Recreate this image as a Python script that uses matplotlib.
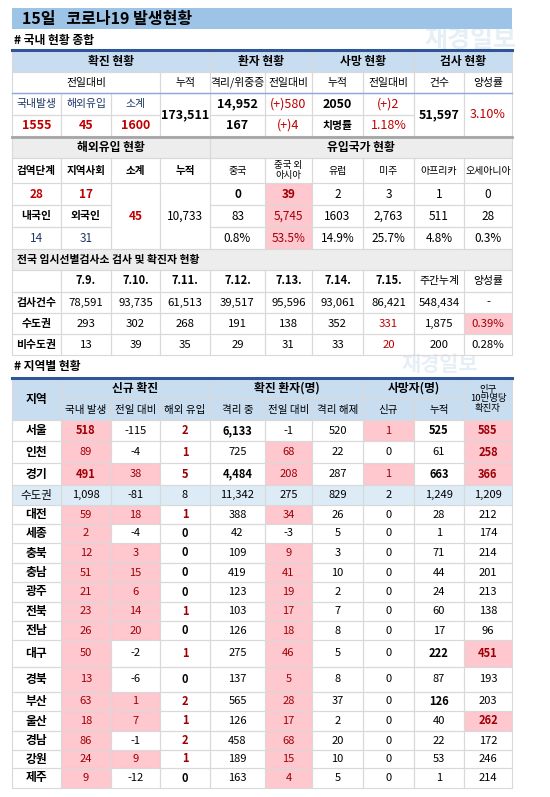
import matplotlib
matplotlib.use("Agg")
import matplotlib.pyplot as plt
from matplotlib.patches import Rectangle

plt.rcParams['font.family'] = ['Noto Sans CJK KR', 'DejaVu Sans']

# ---------------- data ----------------
title = "15일   코로나19 발생현황"
sum_domestic, sum_imported, sum_subtotal, sum_cum = "1555", "45", "1600", "173,511"
iso_crit = ["14,952", "167"]
iso_chg = ["(+)580", "(+)4"]
death_cum, death_chg, fatality = "2050", "(+)2", "1.18%"
tests, pos_rate = "51,597", "3.10%"

imp_quar, imp_comm, imp_sub, imp_cum = "28", "17", "45", "10,733"
imp_kor, imp_for = "14", "31"
origin_names = ["중국", "중국 외\n아시아", "유럽", "미주", "아프리카", "오세아니아"]
origin_today = ["0", "39", "2", "3", "1", "0"]
origin_cum = ["83", "5,745", "1603", "2,763", "511", "28"]
origin_pct = ["0.8%", "53.5%", "14.9%", "25.7%", "4.8%", "0.3%"]

dates = ["7.9.", "7.10.", "7.11.", "7.12.", "7.13.", "7.14.", "7.15.", "주간누계", "양성률"]
test_counts = ["78,591", "93,735", "61,513", "39,517", "95,596", "93,061", "86,421", "548,434", "-"]
metro_pos = ["293", "302", "268", "191", "138", "352", "331", "1,875", "0.39%"]
nonmetro_pos = ["13", "39", "35", "29", "31", "33", "20", "200", "0.28%"]

regions = ["서울", "인천", "경기", "수도권", "대전", "세종", "충북", "충남", "광주", "전북",
           "전남", "대구", "경북", "부산", "울산", "경남", "강원", "제주"]
domestic = [518, 89, 491, 1098, 59, 2, 12, 51, 21, 23, 26, 50, 13, 63, 18, 86, 24, 9]
dom_change = [-115, -4, 38, -81, 18, -4, 3, 15, 6, 14, 20, -2, -6, 1, 7, -1, 9, -12]
imported = [2, 1, 5, 8, 1, 0, 0, 0, 0, 1, 0, 1, 0, 2, 1, 2, 1, 0]
isolated = [6133, 725, 4484, 11342, 388, 42, 109, 419, 123, 103, 126, 275, 137, 565, 126, 458, 189, 163]
iso_change = [-1, 68, 208, 275, 34, -3, 9, 41, 19, 17, 18, 46, 5, 28, 17, 68, 15, 4]
released = [520, 22, 287, 829, 26, 5, 3, 10, 2, 7, 8, 5, 8, 37, 2, 20, 10, 5]
new_death = [1, 0, 1, 2, 0, 0, 0, 0, 0, 0, 0, 0, 0, 0, 0, 0, 0, 0]
cum_death = [525, 61, 663, 1249, 28, 1, 71, 44, 24, 60, 17, 222, 87, 126, 40, 22, 53, 1]
per100k = [585, 258, 366, 1209, 212, 174, 214, 201, 213, 138, 96, 451, 193, 203, 262, 172, 246, 214]

# ---------------- style ----------------
X = [12, 61, 111, 160, 210, 265, 312, 363, 414, 464, 512]
HDR = "#C9DDF1"
GRAY = "#EDEDED"
PINK = "#FFC7CE"
RED = "#C00000"
DRED = "#9C0006"
NAVY = "#1F3864"
GRID = "#D9D9D9"
METRO = "#DDEBF7"
FS = 8.5

fig = plt.figure(figsize=(5.5, 7.97), dpi=100)
ax = fig.add_axes([0, 0, 1, 1])
ax.set_xlim(0, 550)
ax.set_ylim(797, 0)
ax.axis('off')


def cell(c0, c1, y0, y1, text="", bg=None, color="black", bold=False, fs=FS, edge=True):
    x0, x1 = X[c0], X[c1]
    if bg:
        ax.add_patch(Rectangle((x0, y0), x1 - x0, y1 - y0, facecolor=bg, edgecolor='none', zorder=1))
    if edge:
        ax.add_patch(Rectangle((x0, y0), x1 - x0, y1 - y0, facecolor='none', edgecolor=GRID, lw=0.8, zorder=2))
    if text != "":
        ax.text((x0 + x1) / 2, (y0 + y1) / 2, text, ha='center', va='center', fontsize=fs,
                color=color, fontweight='bold' if bold else 'normal', zorder=3, linespacing=1.1)


# title
ax.add_patch(Rectangle((12, 8), 500, 21, facecolor="#9DC3E6", edgecolor='none'))
ax.text(22, 18.5, title, ha='left', va='center', fontsize=11.5, fontweight='bold')
ax.text(14, 40, "# 국내 현황 종합", ha='left', va='center', fontsize=8.5, fontweight='bold')
ax.text(470, 40, "재경일보", ha='center', va='center', fontsize=18, color="#D6E4F0", fontweight='bold', alpha=0.6, zorder=0)

# section 1
rA, rB, rC, rD, rE = 50, 72, 93, 115, 136
for (c0, c1), t in zip([(0, 4), (4, 6), (6, 8), (8, 10)], ["확진 현황", "환자 현황", "사망 현황", "검사 현황"]):
    cell(c0, c1, rA, rB, t, bg=HDR, bold=True)
for (c0, c1), t in zip([(0, 3), (3, 4), (4, 5), (5, 6), (6, 7), (7, 8), (8, 9), (9, 10)],
                       ["전일대비", "누적", "격리/위중증", "전일대비", "누적", "전일대비", "건수", "양성률"]):
    cell(c0, c1, rB, rC, t, fs=7.8)
for c, t in enumerate(["국내발생", "해외유입", "소계"]):
    cell(c, c + 1, rC, rD, t, color=NAVY, fs=7.8)
for c, t in enumerate([sum_domestic, sum_imported, sum_subtotal]):
    cell(c, c + 1, rD, rE, t, color=RED, bold=True, fs=9)
cell(3, 4, rC, rE, sum_cum, bold=True, fs=9)
cell(4, 5, rC, rD, iso_crit[0], bold=True, fs=9)
cell(4, 5, rD, rE, iso_crit[1], bold=True, fs=9)
cell(5, 6, rC, rD, iso_chg[0], color=RED, fs=9)
cell(5, 6, rD, rE, iso_chg[1], color=RED, fs=9)
cell(6, 7, rC, rD, death_cum, bold=True, fs=9)
cell(6, 7, rD, rE, "치명률", bold=True, fs=7.8)
cell(7, 8, rC, rD, death_chg, color=RED, fs=9)
cell(7, 8, rD, rE, fatality, color=RED, fs=9)
cell(8, 9, rC, rE, tests, bold=True, fs=9)
cell(9, 10, rC, rE, pos_rate, color=RED, fs=9)
ax.plot([12, 512], [rA, rA], color="#2F5597", lw=2.2, zorder=4)
ax.plot([12, 512], [rC, rC], color="#8EA9DB", lw=1, zorder=4)

# section 2
s0, s1, s2, s3, s4, s5 = 137, 158, 183, 205, 227, 249
cell(0, 4, s0, s1, "해외유입 현황", bg=GRAY, bold=True)
cell(4, 10, s0, s1, "유입국가 현황", bg=GRAY, bold=True)
for c, t in enumerate(["검역단계", "지역사회", "소계", "누적"]):
    cell(c, c + 1, s1, s2, t, fs=7.6, bold=True)
for i, t in enumerate(origin_names):
    cell(4 + i, 5 + i, s1, s2, t, fs=6.8 if "\n" in t else 7.2)
cell(0, 1, s2, s3, imp_quar, color=RED, bold=True)
cell(1, 2, s2, s3, imp_comm, color=RED, bold=True)
cell(0, 1, s3, s4, "내국인", bold=True, fs=7.8)
cell(1, 2, s3, s4, "외국인", bold=True, fs=7.8)
cell(0, 1, s4, s5, imp_kor, color=NAVY)
cell(1, 2, s4, s5, imp_for, color=NAVY)
cell(2, 3, s2, s5, imp_sub, color=RED, bold=True)
cell(3, 4, s2, s5, imp_cum)
for i in range(6):
    bg = PINK if i == 1 else None
    col = DRED if i == 1 else "black"
    cell(4 + i, 5 + i, s2, s3, origin_today[i], bg=bg, color=col, bold=(i == 0 or i == 1))
    cell(4 + i, 5 + i, s3, s4, origin_cum[i], bg=bg, color=col)
    cell(4 + i, 5 + i, s4, s5, origin_pct[i], bg=bg, color=col)
ax.plot([12, 512], [s0, s0], color="#A6A6A6", lw=2, zorder=4)

# section 3
t0, t1, t2, t3, t4, t5 = 249, 270, 292, 313, 334, 355
ax.add_patch(Rectangle((12, t0), 500, t1 - t0, facecolor=GRAY, edgecolor=GRID, lw=0.8))
ax.text(17, (t0 + t1) / 2, "전국 임시선별검사소 검사 및 확진자 현황", ha='left', va='center', fontsize=7.8, fontweight='bold')
cell(0, 1, t1, t2, "")
for i, t in enumerate(dates):
    cell(1 + i, 2 + i, t1, t2, t, bold=(i < 7), fs=8 if i < 7 else 7.8)
for r, (lab, vals) in enumerate(zip(["검사건수", "수도권", "비수도권"], [test_counts, metro_pos, nonmetro_pos])):
    y0, y1 = [t2, t3, t4][r], [t3, t4, t5][r]
    cell(0, 1, y0, y1, lab, fs=7.8, bold=True)
    for i, v in enumerate(vals):
        bg, col = None, "black"
        if i == 6 and r > 0:
            col = RED
        if i == 8 and r == 1:
            bg, col = PINK, DRED
        cell(1 + i, 2 + i, y0, y1, v, bg=bg, color=col, fs=8.2)

# section 4
ax.text(14, 366, "# 지역별 현황", ha='left', va='center', fontsize=8.5, fontweight='bold')
ax.text(440, 364, "재경일보", ha='center', va='center', fontsize=15, color="#D6E4F0", fontweight='bold', alpha=0.6, zorder=0)
h0, h1, h2 = 378, 399, 420
cell(0, 1, h0, h2, "지역", bg=HDR, bold=True)
for (c0, c1), t in zip([(1, 4), (4, 7), (7, 9)], ["신규 확진", "확진 환자(명)", "사망자(명)"]):
    cell(c0, c1, h0, h1, t, bg=HDR, bold=True)
for i, t in enumerate(["국내 발생", "전일 대비", "해외 유입", "격리 중", "전일 대비", "격리 해제", "신규", "누적"]):
    cell(1 + i, 2 + i, h1, h2, t, bg=HDR, fs=7.6)
cell(9, 10, h0, h2, "인구\n10만명당\n확진자", bg=HDR, fs=6.8)
ax.plot([12, 512], [h0, h0], color="#2F5597", lw=2.2, zorder=4)

R = [420, 441, 463, 485, 505, 524, 543, 563, 582, 602, 621, 640, 667, 692, 711, 731, 750, 768, 788]
bold_iso = {"서울", "경기"}
bold_dom = {"서울", "경기"}
pink_100k = {"서울", "인천", "경기", "대구", "울산"}
bold_cum = {"서울", "경기", "대구", "부산"}
for k, name in enumerate(regions):
    y0, y1 = R[k], R[k + 1]
    metro = name == "수도권"
    if metro:
        ax.add_patch(Rectangle((12, y0), 500, y1 - y0, facecolor=METRO, edgecolor='none', zorder=1))
        vals = [domestic[k], dom_change[k], imported[k], isolated[k], iso_change[k], released[k],
                new_death[k], cum_death[k], per100k[k]]
        cell(0, 1, y0, y1, name, fs=8.3)
        for i, v in enumerate(vals):
            cell(1 + i, 2 + i, y0, y1, f"{v:,}", fs=8)
        continue
    cell(0, 1, y0, y1, name, bold=True)
    cell(1, 2, y0, y1, f"{domestic[k]:,}", bg=PINK, color=DRED, bold=name in bold_dom, fs=8)
    pos = dom_change[k] > 0
    cell(2, 3, y0, y1, f"{dom_change[k]}", bg=PINK if pos else None, color=DRED if pos else "black", fs=8)
    cell(3, 4, y0, y1, f"{imported[k]}", color=DRED if imported[k] > 0 else "black", bold=True, fs=8)
    cell(4, 5, y0, y1, f"{isolated[k]:,}", bold=name in bold_iso, fs=8)
    pos = iso_change[k] > 0
    cell(5, 6, y0, y1, f"{iso_change[k]}", bg=PINK if pos else None, color=DRED if pos else "black", fs=8)
    cell(6, 7, y0, y1, f"{released[k]}", fs=8)
    nd = new_death[k] > 0
    cell(7, 8, y0, y1, f"{new_death[k]}", bg=PINK if nd else None, color=DRED if nd else "black", fs=8)
    cell(8, 9, y0, y1, f"{cum_death[k]:,}", bold=name in bold_cum, fs=8)
    pk = name in pink_100k
    cell(9, 10, y0, y1, f"{per100k[k]:,}", bg=PINK if pk else None, color=DRED if pk else "black", bold=pk, fs=8)

fig.savefig("out.png", dpi=100, facecolor="white")
